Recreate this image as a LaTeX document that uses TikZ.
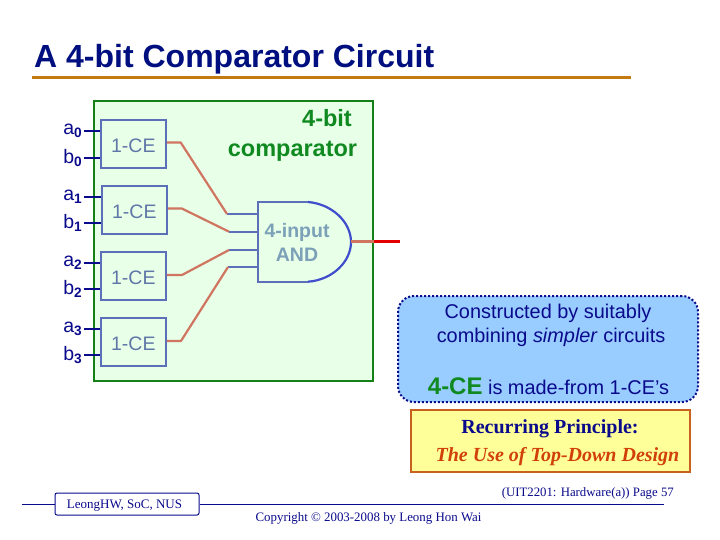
\documentclass[tikz,border=0pt]{standalone}
\usepackage{fontspec}
\setmainfont{Liberation Sans}
\newfontfamily\serifface{Liberation Serif}
\definecolor{navyink}{HTML}{0A0A8C}
\definecolor{titleink}{HTML}{000F80}
\definecolor{rulebrown}{HTML}{C47A10}
\definecolor{greenedge}{HTML}{158015}
\definecolor{greenfill}{HTML}{E8FFE8}
\definecolor{ceblue}{HTML}{5B70B8}
\definecolor{cetext}{HTML}{5F76A8}
\definecolor{gatetext}{HTML}{7BA0B8}
\definecolor{wire}{HTML}{CF7560}
\definecolor{calloutfill}{HTML}{99CCFF}
\definecolor{yellowfill}{HTML}{FFFF99}
\definecolor{yellowedge}{HTML}{C8601E}
\definecolor{redtext}{HTML}{D04008}
\definecolor{boldgreen}{HTML}{108A20}
\newcommand{\fsz}[1]{\fontsize{#1}{#1}\selectfont}
\newcommand{\lowered}[2]{\raisebox{-#1}[\height][\depth]{#2}}
\tikzset{
 cebox/.style={draw=ceblue,line width=2pt,fill=greenfill,minimum width=65pt,minimum height=48pt,inner sep=0pt,text=cetext,font=\fsz{19.5}},
 sig/.style={inner sep=0pt,anchor=east,text=navyink,font=\fsz{19.5}},
 inwire/.style={draw=navyink,line width=2pt},
 outwire/.style={draw=wire,line width=2.2pt,line join=round},
 gatewire/.style={draw=ceblue,line width=2pt},
 plain/.style={inner sep=0pt},
}
\begin{document}
\begin{tikzpicture}[x=1pt,y=-1pt]
\useasboundingbox (0,0) rectangle (720,540);
\fill[white] (0,0) rectangle (720,540);
% title
\node[plain,anchor=base west,text=titleink,font=\fsz{32}\bfseries] (title) at (34,68) {A 4-bit Comparator Circuit};
\coordinate (ruleL) at (32,78); \coordinate (ruleR) at (631,78);
\draw[rulebrown,line width=3pt] (ruleL) -- (ruleR);
% main box
\node[draw=greenedge,fill=greenfill,line width=2pt,minimum width=279pt,minimum height=280pt,inner sep=0pt] (main) at (233.5,241) {};
% CE boxes
\node[cebox] (ce0) at (133.3,144) {\lowered{1.5pt}{1-CE}};
\node[cebox] (ce1) at (134.3,210) {\lowered{1.5pt}{1-CE}};
\node[cebox] (ce2) at (133.3,276) {\lowered{1.5pt}{1-CE}};
\node[cebox] (ce3) at (133.3,342) {\lowered{1.5pt}{1-CE}};
% signals
\foreach \n/\l/\ya/\yb in {0/0/130.7/158,1/1/197/222.7,2/2/263/289,3/3/329/355}{
 \node[sig] (a\n) at (82.5,\ya) {a\textsubscript{\textbf{\l}}};
 \node[sig] (b\n) at (82.5,\yb) {b\textsubscript{\textbf{\l}}};
 \coordinate (ap\n) at (84,\ya); \coordinate (bp\n) at (84,\yb);
 \draw[inwire] (ap\n) -- (ap\n -| ce\n.west);
 \draw[inwire] (bp\n) -- (bp\n -| ce\n.west);
}
% caption
\node[plain,anchor=base,text=boldgreen,font=\fsz{23.5}\bfseries] (cap1) at (327,127) {4-bit};
\node[plain,anchor=base,text=boldgreen,font=\fsz{23.5}\bfseries] (cap2) at (292.5,157) {comparator};
% gate
\coordinate (gi0) at (227,214); \coordinate (gi1) at (229,231.7);
\coordinate (gi2) at (229,250); \coordinate (gi3) at (228,267);
\coordinate (gl0) at (258,214); \coordinate (gl1) at (258,231.7);
\coordinate (gl2) at (258,250); \coordinate (gl3) at (260,267);
\foreach \i in {0,1,2,3}{\draw[gatewire] (gi\i) -- (gl\i);}
\draw[draw=ceblue,line width=2pt,fill=greenfill] (308,202) -- (257.7,202) -- (257.7,281.7) -- (308,281.7);
\draw[draw=ceblue!70!blue,line width=2.2pt] (308,202) .. controls (332,204) and (351,222) .. (351,242) .. controls (351,262) and (332,280) .. (308,281.7);
\coordinate (gout) at (351,241.7);
\node[plain,anchor=base,text=gatetext,font=\fsz{19.5}\bfseries] (gatelabel1) at (297,237) {4-input};
\node[plain,anchor=base,text=gatetext,font=\fsz{19.5}\bfseries] (gatelabel2) at (297,261) {AND};
% outputs
\draw[outwire] (ce0.east |- 0,142.5) -- (180.7,142.5) -- (gi0);
\draw[outwire] (ce1.east |- 0,208.6) -- (182,208.6) -- (gi1);
\draw[outwire] (ce2.east |- 0,275) -- (182,275) -- (gi2);
\draw[outwire] (ce3.east |- 0,341) -- (181,341) -- (gi3);
\coordinate (outred) at (400,241.7);
\draw[draw=wire,line width=3.5pt] (gout) -- (gout -| main.east);
\draw[draw=red!90!black,line width=3.5pt] (gout -| main.east) -- (outred);
% callout
\node[draw=navyink,fill=calloutfill,line width=2pt,dotted,rounded corners=16pt,minimum width=300pt,minimum height=106pt,inner sep=0pt] (callout) at (548,349) {};
\node[plain,anchor=base,text=navyink,font=\fsz{19.9}] (call1) at (548,318) {Constructed by suitably};
\node[plain,anchor=base,text=navyink,font=\fsz{19.9}] (call2) at (551,342) {combining \textit{simpler} circuits};
\node[plain,anchor=base,text=navyink,font=\fsz{19.9}] (madefrom) at (548.5,394) {\textcolor{boldgreen}{\fsz{24}\textbf{4-CE}} is made-from 1-CE’s};
% principle
\node[draw=yellowedge,fill=yellowfill,line width=2pt,minimum width=279.3pt,minimum height=62pt,inner sep=0pt] (principle) at (550.4,441) {};
\node[plain,anchor=base,text=navyink,font=\serifface\fsz{20}\bfseries] (rec) at (550,433) {Recurring Principle:};
\node[plain,anchor=base,text=redtext,font=\serifface\fsz{20}\bfseries\itshape] (use) at (557.5,461) {The Use of Top-Down Design};
% footer
\node[plain,anchor=base east,text=navyink,font=\serifface\fsz{12.8}] (page) at (674,496) {(UIT2201: Hardware(a)) Page 57};
\node[draw=navyink,line width=1pt,rounded corners=2pt,minimum width=144pt,minimum height=22pt,inner sep=0pt,text=navyink,font=\serifface\fsz{13}] (lbox) at (127,504) {\lowered{2pt}{LeongHW, SoC, NUS\hspace{5pt}}};
\coordinate (fl) at (22,504); \coordinate (fr) at (664,504);
\draw[navyink,line width=0.8pt] (fl) -- (lbox.west);
\draw[navyink,line width=0.8pt] (lbox.east) -- (fr);
\node[plain,anchor=base,text=navyink,font=\serifface\fsz{12.9}] (copy) at (368.5,521) {Copyright © 2003-2008 by Leong Hon Wai};
\end{tikzpicture}
\end{document}
